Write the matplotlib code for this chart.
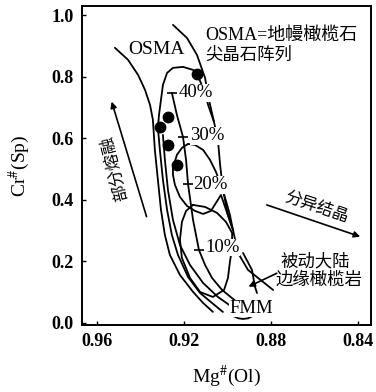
import matplotlib
matplotlib.use("Agg")
import matplotlib.pyplot as plt
import numpy as np

plt.rcParams['mathtext.fontset'] = 'stix'
SERIF = ['Liberation Serif', 'Noto Sans CJK SC']
CJK = ['Noto Sans CJK SC', 'DejaVu Sans']

# ---- data (Mg# of olivine, Cr# of spinel) ----
osma_left_x = [0.9516, 0.9456, 0.9410, 0.9378, 0.9355, 0.9342, 0.9333, 0.9319, 0.9305, 0.9287, 0.9264, 0.9218, 0.9158, 0.9112, 0.9067]
osma_left_y = [0.894, 0.855, 0.806, 0.757, 0.708, 0.660, 0.562, 0.464, 0.367, 0.285, 0.220, 0.155, 0.100, 0.064, 0.035]

osma_right_x = [0.9250, 0.9186, 0.9140, 0.9103, 0.9085, 0.9062, 0.9044, 0.9034, 0.9025, 0.9011, 0.8998, 0.8975, 0.8952, 0.8906, 0.8837, 0.8791]
osma_right_y = [0.9686, 0.9263, 0.871, 0.7962, 0.7246, 0.6530, 0.5944, 0.5131, 0.4577, 0.3959, 0.3504, 0.3015, 0.2267, 0.1714, 0.1323, 0.1063]

forearc_x = [0.9062, 0.9089, 0.9108, 0.9140, 0.9158, 0.9204, 0.9250, 0.9277, 0.9296, 0.9305, 0.9314, 0.9319, 0.9310, 0.9296, 0.9277, 0.9255, 0.9227, 0.9181, 0.9126, 0.9071, 0.9021]
forearc_y = [0.6530, 0.7083, 0.7571, 0.8092, 0.8222, 0.832, 0.8287, 0.8124, 0.7734, 0.7246, 0.6758, 0.6335, 0.5619, 0.4642, 0.3666, 0.285, 0.2202, 0.1486, 0.0965, 0.064, 0.0347]

inner_x = [0.9296, 0.9287, 0.9273, 0.9250, 0.9218, 0.9172, 0.9112, 0.9044, 0.8979]
inner_y = [0.6107, 0.5293, 0.4317, 0.3341, 0.2527, 0.1877, 0.1291, 0.0835, 0.051]

trend_x = [0.9255, 0.9232, 0.9204, 0.9190, 0.9181, 0.9158, 0.9131, 0.9103, 0.9071, 0.9025, 0.8952]
trend_y = [0.7473, 0.6758, 0.6042, 0.5293, 0.4512, 0.3341, 0.2365, 0.1877, 0.1454, 0.1063, 0.064]

melt_pct = ['40%', '30%', '20%', '10%']
melt_x = [0.9255, 0.9204, 0.9181, 0.9131]
melt_y = [0.7473, 0.6042, 0.4512, 0.2365]
melt_lab_x = [0.9225, 0.9172, 0.9157, 0.9103]
melt_lab_y = [0.7473, 0.6081, 0.448, 0.2446]

field1_x = [0.9250, 0.9232, 0.9209, 0.9181, 0.9149, 0.9112, 0.9080, 0.9053, 0.9030, 0.9007, 0.8989, 0.8975, 0.9002, 0.9030, 0.9053, 0.9076, 0.9112, 0.9149, 0.9186, 0.9218, 0.9241, 0.9250, 0.9250]
field1_y = [0.5033, 0.5456, 0.5684, 0.5814, 0.5781, 0.5619, 0.5293, 0.4903, 0.448, 0.3959, 0.3504, 0.3015, 0.3569, 0.4154, 0.3894, 0.3634, 0.3536, 0.3634, 0.3797, 0.4089, 0.448, 0.4805, 0.5033]

field2_x = [0.9158, 0.9103, 0.9048, 0.9007, 0.8979, 0.8979, 0.8989, 0.8998, 0.9016, 0.9067, 0.9126, 0.9172, 0.9209, 0.9218, 0.9209, 0.9190, 0.9158]
field2_y = [0.3829, 0.3764, 0.3569, 0.3276, 0.2918, 0.2430, 0.1975, 0.1454, 0.1063, 0.0835, 0.0998, 0.1454, 0.2104, 0.2690, 0.3276, 0.3634, 0.3829]

passive_x = [0.8929, 0.8888, 0.8874, 0.8865]
passive_y = [0.2267, 0.1714, 0.1161, 0.0965]

fmm_arc_x = [0.8975, 0.8950, 0.8929, 0.8906, 0.8883]
fmm_arc_y = [0.022, 0.014, 0.012, 0.014, 0.022]

dots_x = [0.9140, 0.9310, 0.9272, 0.9272, 0.9233]
dots_y = [0.809, 0.6377, 0.6683, 0.5781, 0.513]

xticks = [0.96, 0.92, 0.88, 0.84]
yticks = [0.0, 0.2, 0.4, 0.6, 0.8, 1.0]

fig = plt.figure(figsize=(3.76, 3.92), dpi=100)
ax = fig.add_axes([0.218, 0.171, 0.769, 0.814])
ax.set_xlim(0.9667, 0.8342)
ax.set_ylim(-0.0076, 1.0304)

lw = 1.3
kw = dict(color='black', lw=lw, solid_capstyle='round', solid_joinstyle='round')
ax.plot(osma_left_x, osma_left_y, **kw)
ax.plot(osma_right_x, osma_right_y, **kw)
ax.plot(forearc_x, forearc_y, **kw)
ax.plot(inner_x, inner_y, **kw)
ax.plot(trend_x, trend_y, **kw)
ax.plot(field1_x, field1_y, **kw)
ax.plot(field2_x, field2_y, **kw)
ax.plot(passive_x, passive_y, **kw)
ax.plot(fmm_arc_x, fmm_arc_y, **kw)
ax.plot(melt_x, melt_y, linestyle='none', marker='_', markersize=7, markeredgewidth=1.2, color='black')
ax.plot(dots_x, dots_y, linestyle='none', marker='o', markersize=7.5, color='black')

for lab, lx, ly in zip(melt_pct, melt_lab_x, melt_lab_y):
    ax.text(lx, ly, lab, family=SERIF, fontsize=13.5, ha='left', va='center', zorder=5,
            bbox=dict(fc='white', ec='none', pad=0.3))

ax.text(0.9326, 0.8873, 'OSMA', family=SERIF, fontsize=14, ha='center', va='center', zorder=5,
        bbox=dict(fc='white', ec='none', pad=0.3))
ax.text(0.9103, 0.9345, 'OSMA=地幔橄榄石', family=SERIF, fontsize=13, ha='left', va='center', zorder=5)
ax.text(0.9103, 0.8726, '尖晶石阵列', family=CJK, fontsize=12.5, ha='left', va='center', zorder=5)
ax.text(0.8890, 0.0461, 'FMM', family=SERIF, fontsize=13.5, ha='center', va='center', zorder=5,
        bbox=dict(fc='white', ec='none', pad=0.3))
ax.text(0.8759, 0.199, '被动大陆', family=CJK, fontsize=12.5, ha='left', va='center', zorder=5)
ax.text(0.8782, 0.1388, '边缘橄榄岩', family=CJK, fontsize=12.5, ha='left', va='center', zorder=5)
ax.text(0.8591, 0.3754, '分异结晶', family=CJK, fontsize=12, ha='center', va='center',
        rotation=-18.5, rotation_mode='anchor', zorder=5)
ax.text(0.9516, 0.5023, '部分熔融', family=CJK, fontsize=12, ha='center', va='center',
        rotation=104, rotation_mode='anchor', zorder=5)

arw = dict(arrowstyle='-|>', lw=1.2, color='black', mutation_scale=9, shrinkA=0, shrinkB=0)
ax.annotate('', xy=(0.8392, 0.2797), xytext=(0.882, 0.3829), arrowprops=arw)
ax.annotate('', xy=(0.9531, 0.719), xytext=(0.9371, 0.3448), arrowprops=arw)
ax.annotate('', xy=(0.8904, 0.117), xytext=(0.8774, 0.1606), arrowprops=arw)

ax.set_xticks(xticks)
ax.set_xticklabels([f'{v:.2f}' for v in xticks])
ax.set_yticks(yticks)
ax.set_yticklabels([f'{v:.1f}' for v in yticks])
ax.tick_params(direction='in', length=3, width=1, pad=6)
for lab in ax.get_xticklabels() + ax.get_yticklabels():
    lab.set_family(SERIF)
    lab.set_fontsize(13)
    lab.set_fontweight('bold')
for s in ax.spines.values():
    s.set_linewidth(1.4)

ax.set_xlabel(r'Mg$^{\#}$(Ol)', family=SERIF, fontsize=14, labelpad=10)
ax.set_ylabel(r'Cr$^{\#}$(Sp)', family=SERIF, fontsize=14, labelpad=14)

fig.savefig('out.png', dpi=100)
